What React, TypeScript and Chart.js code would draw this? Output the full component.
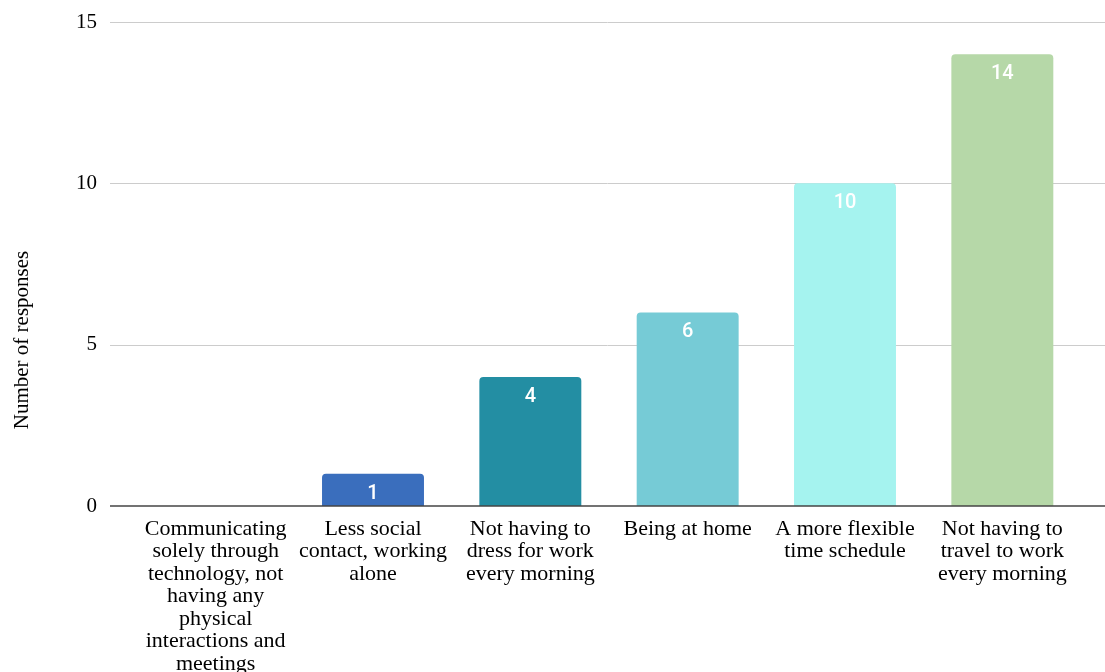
import React, { useEffect, useRef } from "react";
import { Chart, registerables } from "chart.js";

Chart.register(...registerables);

const categories: string[][] = [
  ["Communicating", "solely through", "technology, not", "having any", "physical", "interactions and", "meetings"],
  ["Less social", "contact, working", "alone"],
  ["Not having to", "dress for work", "every morning"],
  ["Being at home"],
  ["A more flexible", "time schedule"],
  ["Not having to", "travel to work", "every morning"],
];
const responses: number[] = [0, 1, 4, 6, 10, 14];
const barColors: string[] = ["#3a6ebd", "#3a6ebd", "#238ea3", "#76cbd6", "#a5f3ef", "#b6d8a8"];
const yTicks: number[] = [0, 5, 10, 15];
const yTitle = "Number of responses";

const SERIF = "'Liberation Serif', 'Times New Roman', serif";

const extrasPlugin = {
  id: "extras",
  beforeDatasetsDraw(chart: any) {
    const { ctx, chartArea, scales } = chart;
    const y = scales.y;
    ctx.save();
    ctx.strokeStyle = "#cccccc";
    ctx.lineWidth = 1;
    for (const v of yTicks) {
      if (v === 0) continue;
      const py = Math.round(y.getPixelForValue(v)) + 0.5;
      ctx.beginPath();
      ctx.moveTo(chartArea.left - 27, py);
      ctx.lineTo(chart.width, py);
      ctx.stroke();
    }
    ctx.restore();
  },
  afterDatasetsDraw(chart: any) {
    const { ctx, chartArea, scales } = chart;
    const y = scales.y;
    ctx.save();
    const py0 = y.getPixelForValue(0);
    ctx.strokeStyle = "#444444";
    ctx.lineWidth = 1.5;
    ctx.beginPath();
    ctx.moveTo(chartArea.left - 27, py0);
    ctx.lineTo(chart.width, py0);
    ctx.stroke();
    ctx.fillStyle = "#ffffff";
    ctx.font = "500 20px Roboto, 'Noto Sans', sans-serif";
    ctx.textAlign = "center";
    ctx.textBaseline = "middle";
    const meta = chart.getDatasetMeta(0);
    meta.data.forEach((bar: any, i: number) => {
      const v = responses[i];
      if (!v) return;
      ctx.fillText(String(v), bar.x, bar.y + 20);
    });
    ctx.fillStyle = "#000000";
    ctx.font = "21px " + SERIF;
    ctx.translate(22, chart.height / 2 + 4);
    ctx.rotate(-Math.PI / 2);
    ctx.fillText(yTitle, 0, 0);
    ctx.restore();
  },
};

export default function App() {
  const ref = useRef<HTMLCanvasElement | null>(null);
  useEffect(() => {
    const canvas = ref.current;
    if (!canvas) return;
    const chart = new Chart(canvas, {
      type: "bar",
      data: {
        labels: categories,
        datasets: [
          {
            data: responses,
            backgroundColor: barColors,
            borderRadius: 4,
            borderSkipped: "bottom",
            categoryPercentage: 1,
            barPercentage: 0.648,
          },
        ],
      },
      plugins: [extrasPlugin],
      options: {
        responsive: false,
        animation: false,
        layout: { padding: { top: 22, right: 24, left: 0, bottom: 0 } },
        plugins: { legend: { display: false }, tooltip: { enabled: false } },
        scales: {
          x: {
            offset: true,
            grid: { display: false },
            border: { display: false },
            ticks: {
              color: "#000000",
              font: { family: SERIF, size: 22, lineHeight: 1.02 },
              padding: 4,
              maxRotation: 0,
              autoSkip: false,
            },
            afterFit(scale: any) {
              scale.height = 166;
              scale.paddingLeft = 0;
              scale.paddingRight = 0;
            },
          },
          y: {
            min: 0,
            max: 15,
            grid: { display: false },
            border: { display: false },
            afterBuildTicks(scale: any) {
              scale.ticks = yTicks.map((v) => ({ value: v }));
            },
            ticks: {
              color: "#000000",
              font: { family: SERIF, size: 21 },
              padding: 32,
            },
            afterFit(scale: any) {
              scale.width = 137;
              scale.paddingTop = 0;
              scale.paddingBottom = 0;
            },
          },
        },
      },
    });
    return () => chart.destroy();
  }, []);
  return (
    <div style={{ position: "absolute", left: 0, top: 0, width: 1105, height: 672, background: "#ffffff" }}>
      <canvas ref={ref} width={1105} height={672} />
    </div>
  );
}
